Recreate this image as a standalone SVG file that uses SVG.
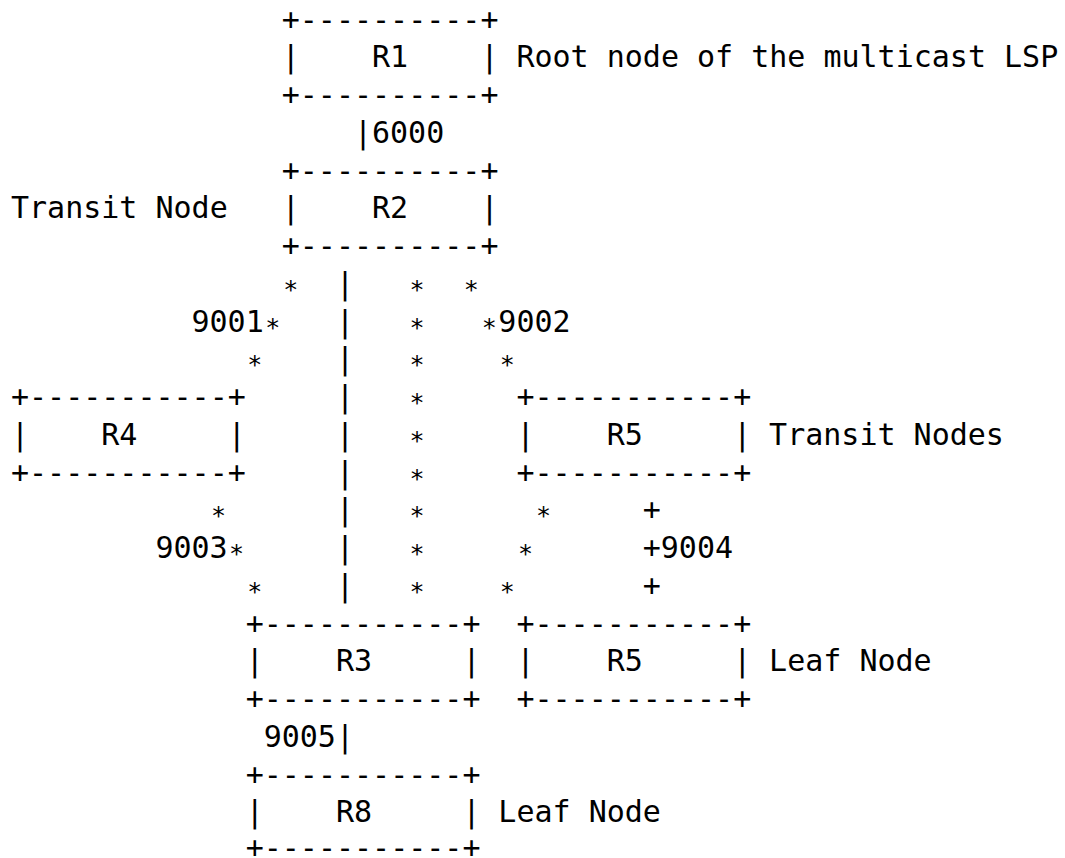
<svg xmlns="http://www.w3.org/2000/svg" width="1065" height="858" viewBox="0 0 1065 858" xml:space="preserve">
<style>
text{font-family:"DejaVu Sans Mono","Liberation Mono",monospace;font-size:30px;fill:#000;white-space:pre}
text.s{font-size:25px}
</style>
<rect width="1065" height="858" fill="#fff"/>
<g id="connectors">
<text x="353.95" y="142.8">|</text><text x="372" y="142.8">6000</text>
<text x="335.9" y="293.8">|</text>
<text x="335.9" y="331.55">|</text>
<text x="335.9" y="369.3">|</text>
<text x="335.9" y="407.05">|</text>
<text x="335.9" y="444.8">|</text>
<text x="335.9" y="482.55">|</text>
<text x="335.9" y="520.3">|</text>
<text x="335.9" y="558.05">|</text>
<text x="335.9" y="595.8">|</text>
<g transform="translate(1.5,4)">
<text class="s" x="281.75" y="293.8">*</text><text class="s" x="408.1" y="293.8">*</text><text class="s" x="462.25" y="293.8">*</text>
<text class="s" x="263.7" y="331.55">*</text><text class="s" x="408.1" y="331.55">*</text><text class="s" x="480.3" y="331.55">*</text>
<text class="s" x="245.65" y="369.3">*</text><text class="s" x="408.1" y="369.3">*</text><text class="s" x="498.35" y="369.3">*</text>
<text class="s" x="408.1" y="407.05">*</text>
<text class="s" x="408.1" y="444.8">*</text>
<text class="s" x="408.1" y="482.55">*</text>
<text class="s" x="209.55" y="520.3">*</text><text class="s" x="408.1" y="520.3">*</text><text class="s" x="534.45" y="520.3">*</text>
<text class="s" x="227.6" y="558.05">*</text><text class="s" x="408.1" y="558.05">*</text><text class="s" x="516.4" y="558.05">*</text>
<text class="s" x="245.65" y="595.8">*</text><text class="s" x="408.1" y="595.8">*</text><text class="s" x="498.35" y="595.8">*</text>
</g>
<text x="191.5" y="331.55">9001</text><text x="498.35" y="331.55">9002</text>
<text x="642.75" y="520.3">+</text>
<text x="155.4" y="558.05">9003</text><text x="642.75" y="558.05">+</text><text x="660.8" y="558.05">9004</text>
<text x="642.75" y="595.8">+</text>
<text x="263.7" y="746.8">9005</text><text x="335.9" y="746.8">|</text>
</g>
<g id="node-R1">
<text x="281.75" y="29.55">+----------+</text>
<text x="281.75" y="67.3">|    R1    |</text>
<text x="281.75" y="105.05">+----------+</text>
<text x="516.4" y="67.3">Root node of the multicast LSP</text>
</g>
<g id="node-R2">
<text x="281.75" y="180.55">+----------+</text>
<text x="281.75" y="218.3">|    R2    |</text>
<text x="281.75" y="256.05">+----------+</text>
<text x="11" y="218.3">Transit Node</text>
</g>
<g id="node-R4">
<text x="11" y="407.05">+-----------+</text>
<text x="11" y="444.8">|    R4     |</text>
<text x="11" y="482.55">+-----------+</text>
</g>
<g id="node-R5-transit">
<text x="516.4" y="407.05">+-----------+</text>
<text x="516.4" y="444.8">|    R5     |</text>
<text x="516.4" y="482.55">+-----------+</text>
<text x="769.1" y="444.8">Transit Nodes</text>
</g>
<g id="node-R3">
<text x="245.65" y="633.55">+-----------+</text>
<text x="245.65" y="671.3">|    R3     |</text>
<text x="245.65" y="709.05">+-----------+</text>
</g>
<g id="node-R5-leaf">
<text x="516.4" y="633.55">+-----------+</text>
<text x="516.4" y="671.3">|    R5     |</text>
<text x="516.4" y="709.05">+-----------+</text>
<text x="769.1" y="671.3">Leaf Node</text>
</g>
<g id="node-R8">
<text x="245.65" y="784.55">+-----------+</text>
<text x="245.65" y="822.3">|    R8     |</text>
<text x="245.65" y="858">+-----------+</text>
<text x="498.35" y="822.3">Leaf Node</text>
</g>
</svg>
